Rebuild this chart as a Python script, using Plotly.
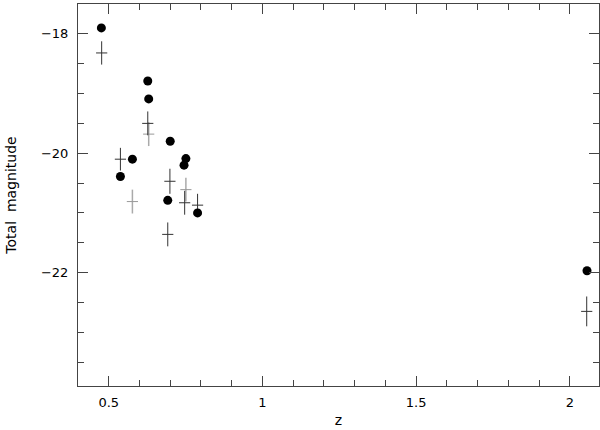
import plotly.graph_objects as go

# Filled circles
circ_z = [0.476, 0.538, 0.577, 0.627, 0.630, 0.692, 0.700, 0.745, 0.751, 0.789, 2.056]
circ_m = [-17.90, -20.39, -20.10, -18.79, -19.09, -20.79, -19.80, -20.20, -20.09, -21.00, -21.97]

# Dark crosses (with vertical error)
dark_z = [0.477, 0.627, 0.538, 0.699, 0.692, 0.747, 0.789, 2.055]
dark_m = [-18.32, -19.50, -20.10, -20.47, -21.36, -20.83, -20.87, -22.65]
dark_e = [0.195, 0.20, 0.19, 0.21, 0.20, 0.20, 0.19, 0.25]

# Grey crosses
grey_z = [0.630, 0.577, 0.751]
grey_m = [-19.68, -20.81, -20.61]
grey_e = [0.20, 0.20, 0.20]

fig = go.Figure()

fig.add_trace(go.Scatter(
    x=grey_z, y=grey_m, mode="markers",
    marker=dict(symbol="line-ew", size=8, line=dict(color="#999999", width=1)),
    error_y=dict(type="data", array=grey_e, visible=True, width=0, thickness=1.5, color="#aaaaaa"),
    showlegend=False))

fig.add_trace(go.Scatter(
    x=dark_z, y=dark_m, mode="markers",
    marker=dict(symbol="line-ew", size=8, line=dict(color="#333333", width=1)),
    error_y=dict(type="data", array=dark_e, visible=True, width=0, thickness=1, color="#333333"),
    showlegend=False))

fig.add_trace(go.Scatter(
    x=circ_z, y=circ_m, mode="markers",
    marker=dict(symbol="circle", size=9, color="black", line=dict(width=0)),
    showlegend=False))

axis_common = dict(
    showline=True, linecolor="#444444", linewidth=1, mirror="ticks",
    ticks="inside", ticklen=10, tickcolor="#444444", tickwidth=1,
    showgrid=False, zeroline=False, automargin=False,
    tickfont=dict(family="DejaVu Sans", size=13, color="black"),
)

fig.update_xaxes(
    range=[0.4, 2.095], tickvals=[0.5, 1, 1.5, 2], ticktext=["0.5", "1", "1.5", "2"],
    minor=dict(dtick=0.1, ticks="inside", ticklen=6, tickcolor="#444444", showgrid=False),
    title=dict(text="z", font=dict(family="DejaVu Sans", size=14, color="black"), standoff=6),
    ticklabelstandoff=4,
    **axis_common)

fig.update_yaxes(
    range=[-23.9, -17.5], tickvals=[-18, -20, -22],
    minor=dict(dtick=0.5, ticks="inside", ticklen=6, tickcolor="#444444", showgrid=False),
    title=dict(text="Total  magnitude", font=dict(family="DejaVu Sans", size=14, color="black"), standoff=21),
    ticklabelstandoff=6,
    **axis_common)

fig.update_layout(
    width=600, height=430,
    margin=dict(l=78, r=1, t=4, b=44),
    plot_bgcolor="white", paper_bgcolor="white",
)

fig.write_html("out.html", config={"displayModeBar": False},
               post_script="document.body.style.margin='0';document.body.style.padding='0';")
